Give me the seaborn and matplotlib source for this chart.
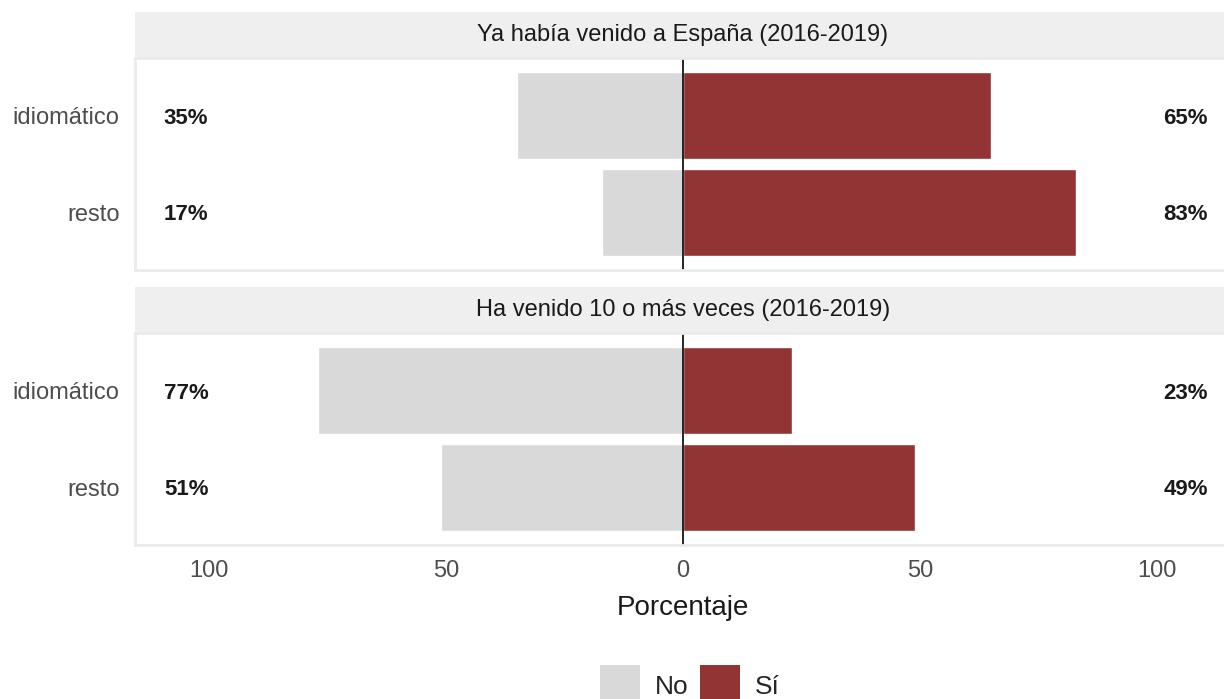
import pandas as pd
import matplotlib.pyplot as plt
import matplotlib.patches as mpatches
import seaborn as sns

# Data
paneles = ["Ya había venido a España (2016-2019)", "Ha venido 10 o más veces (2016-2019)"]
grupos = ["idiomático", "resto"]
respuestas = ["No", "Sí"]
no_vals = [[35, 17], [77, 51]]
si_vals = [[65, 83], [23, 49]]
ticks = [-100, -50, 0, 50, 100]
tick_labels = ["100", "50", "0", "50", "100"]
colores = {"No": "#D9D9D9", "Sí": "#923434"}

sns.set_theme(style="white")
plt.rcParams["font.family"] = ["Liberation Sans", "DejaVu Sans"]

W, H = 1224, 699
fig = plt.figure(figsize=(W / 100, H / 100), dpi=100)

def fx(px):
    return px / W

def fy(px):
    return 1 - px / H

# panel geometry in pixels (strip top, panel top, panel bottom) for each facet
paneles_px = [(12, 58, 270), (287, 333, 545)]
left_px, right_px = 135, 1231

for i, titulo in enumerate(paneles):
    s_top, p_top, p_bot = paneles_px[i]
    df = pd.DataFrame({
        "grupo": grupos * 2,
        "respuesta": ["No"] * 2 + ["Sí"] * 2,
        "valor": [-v for v in no_vals[i]] + si_vals[i],
    })

    # strip
    sax = fig.add_axes([fx(left_px), fy(p_top), fx(right_px - left_px), (p_top - s_top) / H])
    sax.set_facecolor("#EFEFEF")
    sax.set_xticks([])
    sax.set_yticks([])
    for sp in sax.spines.values():
        sp.set_visible(False)
    sax.text(0.5, 0.5, titulo, ha="center", va="center", fontsize=17, color="#1A1A1A",
             transform=sax.transAxes)

    ax = fig.add_axes([fx(left_px), fy(p_bot), fx(right_px - left_px), (p_bot - p_top) / H])
    sns.barplot(data=df, x="valor", y="grupo", hue="respuesta", hue_order=respuestas,
                palette=colores, dodge=False, orient="h", width=0.9, legend=False,
                saturation=1, ax=ax)
    ax.axvline(0, color="black", lw=1.2)
    ax.set_xlim(-115.6, 115.6)
    ax.set_ylim(1.6, -0.6)
    ax.set_ylabel("")
    ax.tick_params(axis="both", length=0, labelsize=17, colors="#4D4D4D", pad=11)
    for lbl in ax.get_yticklabels():
        lbl.set_verticalalignment("center_baseline")
    for sp in ax.spines.values():
        sp.set_color("#EBEBEB")
        sp.set_linewidth(2)

    for j, g in enumerate(grupos):
        ax.text(-109.5, j, f"{no_vals[i][j]}%", ha="left", va="center_baseline", fontsize=16,
                color="#1A1A1A", fontweight="semibold")
        ax.text(110.7, j, f"{si_vals[i][j]}%", ha="right", va="center_baseline", fontsize=16,
                color="#1A1A1A", fontweight="semibold")

    if i == 0:
        ax.set_xticks([])
        ax.set_xlabel("")
    else:
        ax.set_xticks(ticks)
        ax.set_xticklabels(tick_labels)
        ax.set_xlabel("Porcentaje", fontsize=20, color="#1A1A1A", labelpad=9)

handles = [mpatches.Patch(facecolor=colores[r], edgecolor="none", label=r) for r in respuestas]
fig.legend(handles=handles, loc="center", bbox_to_anchor=(fx(690), fy(686)), ncol=2,
           frameon=False, fontsize=19, handlelength=1.52, handleheight=2.1,
           handletextpad=0.55, columnspacing=0.45, borderpad=0)

fig.savefig("out.png", dpi=100)
